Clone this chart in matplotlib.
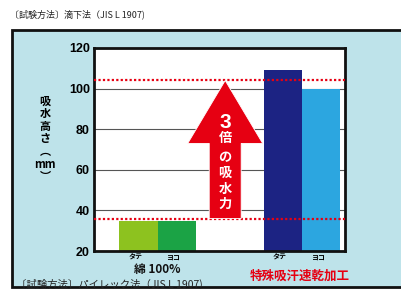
import matplotlib.pyplot as plt
from matplotlib.patches import FancyArrow, Rectangle

plt.rcParams["font.family"] = ["Noto Sans CJK JP", "DejaVu Sans"]

# data
groups = ["綿 100%", "特殊吸汗速乾加工"]
directions = ["タテ", "ヨコ", "タテ", "ヨコ"]
values = [35, 35, 109, 100]
bar_pos = [1.17, 2.17, 4.97, 5.97]
bar_colors = ["#8DC21F", "#1BA345", "#1C2383", "#2CA6E0"]
ref_lines = [36, 104]
yticks = [20, 40, 60, 80, 100, 120]
ylabel_parts = ["吸", "水", "高", "さ", "︵", "mm", "︶"]

W, H = 401, 289
fig = plt.figure(figsize=(W / 100, H / 100), dpi=100)
fig.patch.set_facecolor("white")

# outer light-blue panel
panel = Rectangle((12 / W, 1 - 287 / H), 1.2, (287 - 30) / H, transform=fig.transFigure,
                  facecolor="#BEE3EA", edgecolor="#111111", linewidth=2.0, zorder=-5)
fig.patches.append(panel)

ax = fig.add_axes([94 / W, 1 - 251 / H, 251 / W, 203 / H])
ax.set_zorder(2)
ax.set_facecolor("white")
ax.set_xlim(0, 6.6)
ax.set_ylim(20, 120)
ax.set_yticks(yticks)
ax.set_yticklabels([str(v) for v in yticks], fontsize=9, fontweight="bold",
                   family=["Liberation Sans", "DejaVu Sans"])
ax.tick_params(axis="y", length=0, pad=3)
ax.set_xticks([])
ax.grid(axis="y", color="#555555", linewidth=0.8)
ax.set_axisbelow(True)
for sp in ax.spines.values():
    sp.set_linewidth(2.0)
    sp.set_color("#111111")

ax.bar(bar_pos, values, width=1.0, color=bar_colors, zorder=2)

for y in ref_lines:
    ax.axhline(y, color="#E60012", linestyle=(0, (1, 1)), linewidth=1.6, zorder=3)

# red arrow
arrow = FancyArrow(3.45, ref_lines[0], 0, ref_lines[1] - ref_lines[0], width=0.84,
                   head_width=1.97, head_length=31, length_includes_head=True,
                   facecolor="#E60012", edgecolor="white", linewidth=0.6, zorder=4)
ax.add_patch(arrow)
ax.text(3.45, 83.5, "3", color="white", fontsize=15, fontweight="bold", ha="center",
        va="center", family=["Liberation Sans", "DejaVu Sans"], zorder=5)
for ch, y in zip("倍の吸水力", [75.5, 66.5, 58.5, 50.5, 43.0]):
    ax.text(3.45, y, ch, color="white", fontsize=9.5, fontweight="bold",
            ha="center", va="center", zorder=5)

# labels under bars
xt = ax.get_xaxis_transform()
for x, d in zip(bar_pos, directions):
    ax.text(x - 0.08, -0.015, d, transform=xt, fontsize=5,
            fontweight="bold", ha="center", va="top")
ax.text(1.67, -0.06, groups[0], transform=xt,
        fontsize=8.5, fontweight="bold", ha="center", va="top", color="#111111")
ax.text(5.4, -0.09, groups[1], transform=xt,
        fontsize=9, fontweight="bold", ha="center", va="top", color="#E60012")

# y label (vertical writing, one glyph per row)
for i, part in enumerate(ylabel_parts):
    fig.text(45 / W, 1 - (101 + i * 12.6) / H, part, fontsize=8,
             fontweight="bold", ha="center", va="center")

fig.text(10 / W, 1 - 14 / H, "〔試験方法〕滴下法（JIS L 1907)", fontsize=6.5,
         ha="left", va="center", color="#222222")
fig.text(16 / W, 1 - 284 / H, "〔試験方法〕パイレック法（JIS L 1907)", fontsize=7.5,
         ha="left", va="center", color="#222222")

fig.savefig("out.png", dpi=100)
